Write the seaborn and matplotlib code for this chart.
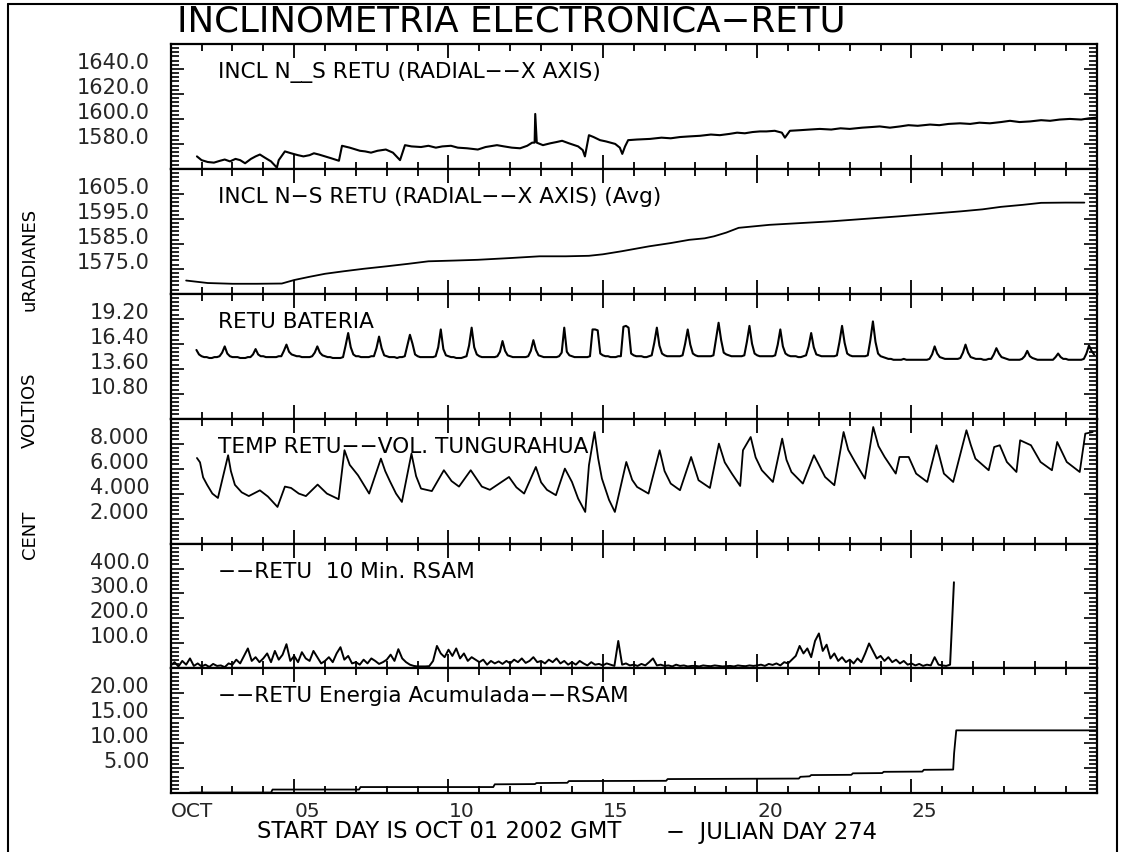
import numpy as np
import matplotlib
matplotlib.use("Agg")
import matplotlib.pyplot as plt
import seaborn as sns
from matplotlib.ticker import AutoMinorLocator
from matplotlib.lines import Line2D

# ---------------- data ----------------
# Panel 1: raw N-S inclination (uradians)
incl_days = [1.85, 2.0, 2.2, 2.4, 2.6, 2.75, 2.92, 3.1, 3.25, 3.41,
             3.6, 3.75, 3.89, 4.05, 4.25, 4.44, 4.5, 4.7, 4.9, 5.12,
             5.3, 5.5, 5.64, 5.8, 6.0, 6.2, 6.45, 6.55, 6.8, 7.13,
             7.3, 7.49, 7.7, 7.97, 8.2, 8.43, 8.59, 8.8, 9.11, 9.35,
             9.59, 9.8, 10.08, 10.3, 10.6, 10.95, 11.2, 11.57, 11.8, 12.05,
             12.32, 12.55, 12.71, 12.79, 12.81, 12.86, 13.06, 13.3, 13.5, 13.68,
             13.9, 14.2, 14.35, 14.42, 14.55, 14.7, 14.91, 15.1, 15.4, 15.55,
             15.63, 15.72, 15.82, 16.1, 16.53, 16.9, 17.2, 17.5, 17.8, 18.15,
             18.5, 18.79, 19.1, 19.35, 19.6, 19.85, 20.09, 20.3, 20.57, 20.8,
             20.9, 21.06, 21.4, 21.7, 22.03, 22.4, 22.7, 23.0, 23.4, 23.7,
             23.97, 24.3, 24.63, 24.9, 25.2, 25.6, 25.9, 26.2, 26.57, 26.9,
             27.2, 27.54, 27.9, 28.19, 28.5, 28.84, 29.2, 29.49, 29.8, 30.13,
             30.5, 30.75, 31.0]
incl_vals = [1570, 1567, 1565.5, 1565, 1566.5, 1567.5, 1566, 1568, 1567, 1564.5,
             1568, 1570, 1571.5, 1569, 1566, 1561, 1567, 1574, 1572.5, 1571,
             1570, 1571, 1572.5, 1571.5, 1570, 1568.5, 1566.5, 1578.5, 1577, 1574.5,
             1574, 1573, 1574.5, 1575.5, 1573, 1567, 1579, 1578, 1577.5, 1578.5,
             1577, 1578, 1578.5, 1577, 1576.5, 1575.5, 1577.5, 1579, 1578, 1577,
             1576.5, 1578.5, 1581, 1581, 1604, 1581, 1579, 1580.5, 1581.5, 1582.5,
             1580.5, 1578, 1575, 1570, 1587, 1585.5, 1583, 1582, 1580, 1577,
             1572, 1578, 1583, 1583.5, 1584, 1585, 1584.5, 1585.5, 1586, 1586.5,
             1587.5, 1587, 1588, 1589, 1588.5, 1589.5, 1590, 1590, 1590.5, 1589,
             1585, 1590.5, 1591, 1591.5, 1592, 1591.5, 1592.5, 1592, 1593, 1593.5,
             1594, 1593, 1594, 1595, 1594.5, 1595.5, 1595, 1596, 1596.5, 1596,
             1597, 1596.5, 1597.5, 1598.5, 1597.5, 1598, 1599, 1598.5, 1599.5, 1600,
             1599.5, 1600.5, 1601]

# Panel 2: averaged N-S inclination
avg_days = [1.5, 2.2, 3.0, 3.8, 4.6, 5.0, 5.5, 6.0, 6.6, 7.25,
            8.0, 8.7, 9.35, 10.2, 10.95, 12.0, 12.95, 13.8, 14.55, 15.0,
            15.6, 16.5, 17.2, 17.8, 18.3, 18.6, 19.0, 19.4, 19.9, 20.4,
            21.4, 22.4, 23.5, 24.6, 25.6, 26.6, 27.3, 27.9, 28.6, 29.2,
            30.0, 30.6]
avg_vals = [1570.3, 1569.3, 1569.0, 1569.0, 1569.1, 1570.5, 1571.8, 1573.0, 1574.0, 1575.0,
            1576.0, 1577.0, 1578.0, 1578.3, 1578.6, 1579.3, 1580.0, 1580.0, 1580.2, 1580.8,
            1582.0, 1584.0, 1585.3, 1586.6, 1587.2, 1588.0, 1589.5, 1591.4, 1592.0, 1592.6,
            1593.3, 1594.0, 1595.0, 1596.0, 1597.0, 1598.0, 1598.8, 1599.8, 1600.6, 1601.4,
            1601.5, 1601.5]

# Panel 3: battery voltage, one value every 2 hours starting day 1 + 20h
bat_start_day = 1 + 10 / 12
bat_vals = [15.7, 15.2,
    15.0, 14.9, 14.9, 14.8, 14.8, 14.9, 14.9, 15.0, 15.4, 16.1, 15.3, 15.0,
    14.9, 14.9, 14.9, 14.8, 14.8, 14.8, 14.9, 14.9, 15.2, 15.8, 15.2, 15.0,
    15.0, 14.9, 14.9, 14.9, 14.9, 14.9, 15.0, 15.0, 15.6, 16.3, 15.5, 15.2,
    15.1, 15.0, 15.0, 14.9, 14.9, 14.9, 14.9, 15.0, 15.4, 16.1, 15.4, 15.1,
    15.0, 14.9, 14.9, 14.8, 14.8, 14.8, 14.8, 14.9, 16.2, 17.6, 16.0, 15.2,
    15.0, 15.0, 14.9, 14.9, 14.9, 14.9, 15.0, 15.0, 15.9, 17.2, 15.9, 15.1,
    15.0, 14.9, 14.9, 14.9, 14.8, 14.9, 14.9, 15.0, 16.2, 17.4, 16.4, 15.2,
    15.0, 14.9, 14.9, 14.9, 14.9, 14.9, 14.9, 15.0, 16.0, 18.0, 15.8, 15.1,
    15.0, 14.9, 14.9, 14.8, 14.8, 14.8, 14.9, 15.0, 16.2, 18.2, 16.0, 15.2,
    15.0, 14.9, 14.9, 14.9, 14.9, 14.9, 14.9, 15.0, 15.5, 16.7, 15.6, 15.1,
    15.0, 14.9, 14.9, 14.9, 14.9, 14.9, 14.9, 15.0, 15.6, 16.8, 15.7, 15.1,
    15.0, 14.9, 14.9, 14.9, 14.9, 14.9, 14.9, 15.0, 15.4, 18.2, 15.5, 15.1,
    15.0, 14.9, 14.9, 14.9, 14.9, 14.9, 14.9, 15.0, 18.0, 18.0, 17.9, 15.3,
    15.1, 15.0, 15.0, 14.9, 14.9, 14.9, 15.0, 15.0, 18.3, 18.4, 18.2, 15.3,
    15.1, 15.0, 15.0, 15.0, 14.9, 14.9, 15.0, 15.1, 16.5, 18.2, 16.2, 15.3,
    15.1, 15.0, 15.0, 15.0, 15.0, 15.0, 15.0, 15.1, 16.4, 18.0, 16.3, 15.3,
    15.1, 15.0, 15.0, 15.0, 15.0, 15.0, 15.0, 15.1, 16.9, 18.75, 16.8, 15.4,
    15.2, 15.1, 15.0, 15.0, 15.0, 15.0, 15.0, 15.1, 16.6, 18.4, 16.4, 15.3,
    15.1, 15.0, 15.0, 15.0, 15.0, 15.0, 15.0, 15.1, 16.3, 18.0, 16.1, 15.3,
    15.1, 15.0, 15.0, 15.0, 14.9, 14.9, 15.0, 15.1, 16.1, 17.6, 16.0, 15.2,
    15.1, 15.0, 15.0, 15.0, 15.0, 15.0, 15.0, 15.1, 16.6, 18.4, 16.5, 15.3,
    15.1, 15.0, 15.0, 15.0, 15.0, 15.0, 15.0, 15.1, 16.8, 18.9, 16.6, 15.3,
    15.0, 14.9, 14.8, 14.7, 14.7, 14.6, 14.6, 14.6, 14.6, 14.7, 14.6, 14.6,
    14.6, 14.6, 14.6, 14.6, 14.6, 14.6, 14.6, 14.7, 15.2, 16.1, 15.3, 14.9,
    14.8, 14.7, 14.7, 14.7, 14.7, 14.7, 14.7, 14.8, 15.4, 16.3, 15.4, 14.9,
    14.8, 14.7, 14.7, 14.7, 14.6, 14.6, 14.7, 14.7, 15.2, 15.9, 15.3, 14.9,
    14.8, 14.7, 14.6, 14.6, 14.6, 14.6, 14.6, 14.7, 15.0, 15.6, 15.0, 14.8,
    14.7, 14.6, 14.6, 14.6, 14.6, 14.6, 14.6, 14.6, 14.9, 15.3, 14.9, 14.7,
    14.7, 14.6, 14.6, 14.6, 14.6, 14.6, 14.6, 14.7, 15.3, 16.2, 15.6, 15.2]
bat_days = bat_start_day + np.arange(len(bat_vals)) / 12

# Panel 4: temperature (deg C)
temp_days = [1.85, 1.95, 2.05, 2.18, 2.35, 2.53, 2.86, 2.95, 3.08, 3.3,
             3.53, 3.89, 4.15, 4.46, 4.70, 4.90, 5.15, 5.38, 5.76, 6.06,
             6.44, 6.63, 6.8, 7.07, 7.43, 7.81, 7.95, 8.10, 8.3, 8.49,
             8.80, 8.95, 9.11, 9.46, 9.85, 10.1, 10.34, 10.72, 11.08, 11.34,
             11.96, 12.2, 12.45, 12.83, 13.0, 13.19, 13.48, 13.77, 14.00, 14.2,
             14.43, 14.55, 14.73, 14.85, 14.97, 15.2, 15.39, 15.76, 15.95, 16.11,
             16.48, 16.84, 17.0, 17.20, 17.50, 17.86, 18.10, 18.47, 18.76, 18.95,
             19.18, 19.45, 19.54, 19.79, 19.95, 20.15, 20.51, 20.81, 20.95, 21.11,
             21.48, 21.84, 22.20, 22.50, 22.80, 22.95, 23.17, 23.49, 23.76, 23.93,
             24.13, 24.49, 24.61, 24.91, 25.15, 25.51, 25.81, 26.05, 26.35, 26.78,
             26.92, 27.07, 27.50, 27.68, 27.86, 28.09, 28.40, 28.52, 28.87, 29.18,
             29.55, 29.72, 30.03, 30.45, 30.63, 30.87]
temp_vals = [6.85, 6.5, 5.3, 4.7, 4.0, 3.65, 7.07, 5.8, 4.7, 4.1,
             3.8, 4.26, 3.76, 2.93, 4.56, 4.45, 4.0, 3.8, 4.72, 4.0,
             3.55, 7.47, 6.3, 5.46, 4.0, 6.8, 5.8, 5.0, 4.0, 3.33,
             7.2, 5.4, 4.4, 4.2, 5.87, 5.0, 4.56, 5.87, 4.56, 4.3,
             5.33, 4.5, 4.0, 6.13, 4.9, 4.3, 3.87, 6.0, 4.93, 3.6,
             2.53, 6.27, 8.93, 6.8, 5.2, 3.5, 2.53, 6.53, 5.1, 4.53,
             4.0, 7.47, 5.8, 4.8, 4.27, 6.93, 5.07, 4.45, 8.0, 6.5,
             5.6, 4.61, 7.47, 8.53, 6.9, 5.87, 4.93, 8.4, 6.7, 5.73,
             4.8, 7.07, 5.33, 4.67, 8.93, 7.5, 6.53, 5.2, 9.33, 7.8,
             6.93, 5.6, 6.93, 6.93, 5.6, 4.93, 7.87, 5.6, 4.93, 9.07,
             7.9, 6.8, 5.87, 7.73, 7.87, 6.53, 5.73, 8.27, 7.87, 6.53,
             5.87, 8.13, 6.53, 5.73, 8.8, 8.93]

# Panel 5: 10-minute RSAM, one value every 3 hours from day 1
rsam_vals = [
    12, 25, 8, 30, 15, 40, 10, 20,
    8, 15, 6, 18, 10, 12, 5, 20,
    15, 35, 20, 50, 80, 30, 45, 25,
    40, 60, 25, 70, 35, 55, 97, 30,
    50, 25, 65, 40, 30, 70, 45, 20,
    30, 45, 25, 60, 85, 35, 50, 20,
    25, 15, 35, 20, 40, 30, 18, 25,
    35, 55, 30, 77, 40, 25, 15, 10,
    8, 8, 8, 9, 30, 90, 60, 45,
    75, 50, 80, 40, 60, 30, 45, 35,
    25, 35, 15, 30, 20, 28, 18, 30,
    20, 35, 25, 40, 22, 30, 45, 25,
    30, 20, 35, 25, 40, 20, 30, 15,
    25, 15, 30, 20, 12, 25, 15, 18,
    12, 20, 15, 10, 110, 15, 20, 12,
    15, 10, 18, 12, 25, 40, 12, 15,
    10, 12, 8, 15, 10, 12, 8, 10,
    10, 8, 12, 10, 9, 12, 10, 8,
    9, 10, 8, 12, 10, 9, 12, 10,
    12, 15, 10, 18, 14, 20, 12, 25,
    20, 35, 50, 90, 60, 80, 45, 110,
    140, 70, 95, 40, 60, 30, 45, 25,
    35, 20, 40, 25, 60, 100, 70, 40,
    50, 30, 45, 25, 35, 20, 30, 15,
    20, 12, 18, 10, 15, 12, 45, 15,
    12, 10, 15, 345]
rsam_days = 1 + np.arange(len(rsam_vals)) / 8

# Panel 6: accumulated energy (staircase)
energy_days = [1.63, 4.25, 4.3, 7.1, 7.15, 11.45, 11.5, 12.8, 12.85, 13.85,
               13.9, 17.05, 17.1, 21.35, 21.4, 21.7, 21.75, 23.05, 23.1, 24.05,
               24.1, 25.35, 25.4, 26.35, 26.38, 26.41, 26.45, 31.0]
energy_vals = [0.15, 0.15, 0.75, 0.75, 1.25, 1.25, 1.8, 1.85, 2.05, 2.1,
               2.45, 2.5, 2.85, 2.95, 3.3, 3.4, 3.65, 3.7, 4.0, 4.05,
               4.3, 4.35, 4.7, 4.75, 8.0, 10.0, 12.6, 12.6]

panel_titles = ["INCL N__S RETU (RADIAL\u2212\u2212X AXIS)",
                "INCL N\u2212S RETU (RADIAL\u2212\u2212X AXIS) (Avg)",
                "RETU BATERIA",
                "TEMP RETU\u2212\u2212VOL. TUNGURAHUA",
                "\u2212\u2212RETU  10 Min. RSAM",
                "\u2212\u2212RETU Energia Acumulada\u2212\u2212RSAM"]
y_limits = [(1560, 1660), (1565, 1615), (8.0, 22.0), (0, 10), (0, 500), (0, 25)]
y_ticks = [[1580, 1600, 1620, 1640], [1575, 1585, 1595, 1605],
           [10.8, 13.6, 16.4, 19.2], [2, 4, 6, 8], [100, 200, 300, 400], [5, 10, 15, 20]]
y_ticklabels = [["1580.0", "1600.0", "1620.0", "1640.0"],
                ["1575.0", "1585.0", "1595.0", "1605.0"],
                ["10.80", "13.60", "16.40", "19.20"],
                ["2.000", "4.000", "6.000", "8.000"],
                ["100.0", "200.0", "300.0", "400.0"],
                ["5.00", "10.00", "15.00", "20.00"]]
x_major_days = [1, 5, 10, 15, 20, 25]
x_ticklabels = ["OCT", "05", "10", "15", "20", "25"]
x_minor_days = list(range(2, 31))
group_labels = ["uRADIANES", "VOLTIOS", "CENT"]
chart_title = "INCLINOMETRIA ELECTRONICA\u2212RETU"
caption_left = "START DAY IS OCT 01 2002 GMT"
caption_right = "\u2212  JULIAN DAY 274"

series = [(incl_days, incl_vals), (avg_days, avg_vals), (bat_days, bat_vals),
          (temp_days, temp_vals), (rsam_days, rsam_vals), (energy_days, energy_vals)]
line_widths = [1.5, 1.3, 1.5, 1.3, 1.4, 1.3]

# ---------------- figure ----------------
sns.set_style("ticks")
plt.rcParams["font.family"] = ["DejaVu Sans"]
W, H = 1133, 852
fig = plt.figure(figsize=(W / 100, H / 100), dpi=100, facecolor="white")

x0, x1 = 170.7, 1096.7
y_top, y_bot = 44.0, 793.3
ph = (y_bot - y_top) / 6

for i, (days, vals) in enumerate(series):
    ax = fig.add_axes([x0 / W, 1 - (y_top + (i + 1) * ph) / H, (x1 - x0) / W, ph / H])
    ax.set_facecolor("white")
    sns.lineplot(x=np.asarray(days, dtype=float), y=np.asarray(vals, dtype=float), ax=ax,
                 color="black", linewidth=line_widths[i], estimator=None, sort=False,
                 legend=False)
    ax.set_xlim(1, 31)
    ax.set_ylim(*y_limits[i])
    ax.set_xlabel("")
    ax.set_ylabel("")
    ax.set_yticks(y_ticks[i])
    ax.set_yticklabels(y_ticklabels[i], fontsize=15)
    ax.yaxis.set_minor_locator(AutoMinorLocator(6))
    ax.set_xticks(x_major_days)
    ax.set_xticks(x_minor_days, minor=True)
    if i == 5:
        ax.set_xticklabels(x_ticklabels, fontsize=14.5)
        for lbl in ax.get_xticklabels():
            lbl.set_horizontalalignment("left")
    else:
        ax.set_xticklabels([])
    ax.tick_params(axis="x", which="both", direction="in", top=True, bottom=True,
                   width=1.3, color="black", pad=6)
    ax.tick_params(axis="x", which="major", length=10)
    ax.tick_params(axis="x", which="minor", length=5)
    ax.tick_params(axis="y", which="both", direction="in", left=True, right=True,
                   width=1.2, color="black", pad=15.4)
    ax.tick_params(axis="y", which="major", length=9.5)
    ax.tick_params(axis="y", which="minor", length=5.5)
    for lbl in ax.get_yticklabels():
        lbl.set_verticalalignment("baseline")
    for sp in ax.spines.values():
        sp.set_visible(True)
        sp.set_linewidth(1.6)
        sp.set_color("black")
    ax.text(0.051, 1 - 28 / ph, panel_titles[i], transform=ax.transAxes,
            fontsize=15.6, va="center", ha="left", color="black")

# title and axis captions
fig.text(511 / W, 1 - 21 / H, chart_title,
         ha="center", va="center", fontsize=25.7, color="black")
fig.text(256.7 / W, 1 - 832 / H, caption_left,
         ha="left", va="center", fontsize=16.3, color="black")
fig.text(877 / W, 1 - 832 / H, caption_right,
         ha="right", va="center", fontsize=16.3, color="black")
for txt, yc in zip(group_labels, [259, 410, 535]):
    fig.text(30 / W, 1 - yc / H, txt, rotation=90, ha="center", va="center",
             fontsize=13, color="black")

# outer frame of the original plot window
for xs, ys in [([8, 8], [852, 4]), ([8, 1117], [4, 4]), ([1117, 1117], [4, 852])]:
    fig.add_artist(Line2D([x / W for x in xs], [1 - y / H for y in ys],
                          transform=fig.transFigure, color="black", linewidth=1.5))

fig.savefig("out.png", dpi=100, facecolor="white")
